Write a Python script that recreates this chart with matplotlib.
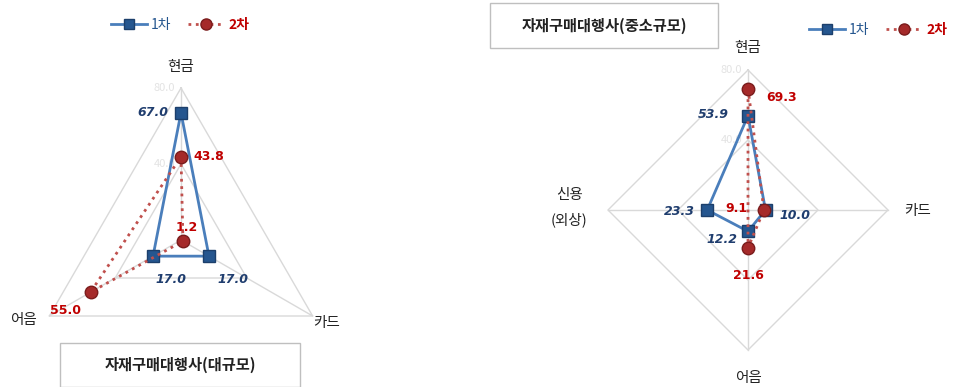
import numpy as np
import matplotlib
matplotlib.use('Agg')
import matplotlib.pyplot as plt
from matplotlib.patches import Rectangle
from matplotlib.lines import Line2D

plt.rcParams['font.family'] = ['Noto Sans CJK KR', 'DejaVu Sans']

# Left chart: large firms
large_axes = ['현금', '카드', '어음']
large_1st = [67.0, 17.0, 17.0]
large_2nd = [43.8, 1.2, 55.0]
large_title = '자재구매대행사(대규모)'

# Right chart: small/medium firms
small_axes = ['현금', '카드', '어음', '신용\n(외상)']
small_1st = [53.9, 10.0, 12.2, 23.3]
small_2nd = [69.3, 9.1, 21.6, 0.0]
small_title = '자재구매대행사(중소규모)'

series_names = ['1차', '2차']
grid_levels = [40.0, 80.0]
r_max = 80.0

blue_line = '#4a7ebb'
blue_mark = '#25568f'
blue_text = '#1f3d6e'
red_line = '#c0504d'
red_mark = '#a52a2a'
red_text = '#c00000'
grid_col = '#d9d9d9'


def radar(ax, labels, s1, s2, lab_off1, lab_off2, cat_off):
    n = len(labels)
    theta = np.linspace(0, 2 * np.pi, n, endpoint=False)
    closed = np.append(theta, theta[0])

    ax.set_theta_offset(np.pi / 2)
    ax.set_theta_direction(-1)
    ax.set_ylim(0, r_max)
    ax.grid(False)
    ax.spines['polar'].set_visible(False)
    ax.set_xticks([])
    ax.set_yticks([])
    ax.patch.set_alpha(0)

    # polygon grid
    for lv in grid_levels:
        ax.plot(closed, [lv] * (n + 1), color=grid_col, lw=1, zorder=1, clip_on=False)
    for t in theta:
        ax.plot([t, t], [0, r_max], color=grid_col, lw=1, zorder=1, clip_on=False)
    for lv in grid_levels:
        ax.annotate(f'{lv:.1f}', xy=(0, lv), xytext=(-4, 0), textcoords='offset points',
                    ha='right', va='center', color='#e3e3e3', fontsize=8)

    # zero values get no marker
    mk1 = [i for i, v in enumerate(s1) if v > 0]
    mk2 = [i for i, v in enumerate(s2) if v > 0]
    ax.plot(closed, np.append(s1, s1[0]), color=blue_line, lw=2, marker='s', ms=8,
            mfc=blue_mark, mec='#1c3f6b', markevery=mk1, zorder=3, clip_on=False)
    ax.plot(closed, np.append(s2, s2[0]), color=red_line, lw=2, ls=':', marker='o', ms=9,
            mfc=red_mark, mec='#7a1c1c', markevery=mk2, zorder=4, clip_on=False)

    for t, v, off in zip(theta, s1, lab_off1):
        if off is None:
            continue
        ax.annotate(f'{v:.1f}', xy=(t, v), xytext=off, textcoords='offset points',
                    ha='center', va='center', color=blue_text, fontsize=9,
                    fontstyle='italic', fontweight='bold', family='DejaVu Sans')
    for t, v, off in zip(theta, s2, lab_off2):
        if off is None:
            continue
        ax.annotate(f'{v:.1f}', xy=(t, v), xytext=off, textcoords='offset points',
                    ha='center', va='center', color=red_text, fontsize=9,
                    fontweight='bold', family='DejaVu Sans')
    for t, lab, off in zip(theta, labels, cat_off):
        ax.annotate(lab, xy=(t, r_max), xytext=off, textcoords='offset points',
                    ha='center', va='center', fontsize=10.5, color='#222222',
                    linespacing=1.9, annotation_clip=False)


fig = plt.figure(figsize=(9.64, 3.87), dpi=100)

ax1 = fig.add_axes([29 / 964, -5 / 387, 304 / 964, 304 / 387], projection='polar')
radar(ax1, large_axes, large_1st, large_2nd,
      [(-20, 0), (17, -17), (13, -17)],
      [(20, 0), (3, 10), (-18, -13)],
      [(0, 15), (10, -5), (-19, -3)])

ax2 = fig.add_axes([608 / 964, 37 / 387, 280 / 964, 280 / 387], projection='polar')
radar(ax2, small_axes, small_1st, small_2nd,
      [(-25, 1), (21, -4), (-19, -6), (-20, -1)],
      [(24, -6), (-20, 1), (0, -20), None],
      [(0, 16), (21, -1), (0, -20), (-28, 2)])

# legends
for x, y in [(180 / 964, 1 - 25 / 387), (878 / 964, 1 - 30 / 387)]:
    h1 = Line2D([], [], color=blue_line, lw=2, marker='s', ms=7, mfc=blue_mark, mec='#1c3f6b')
    h2 = Line2D([], [], color=red_line, lw=2, ls=':', marker='o', ms=8, mfc=red_mark, mec='#7a1c1c')
    leg = fig.legend([h1, h2], series_names, loc='center', bbox_to_anchor=(x, y), ncol=2,
                     frameon=False, handlelength=2.6, handletextpad=0.3, columnspacing=1.2,
                     fontsize=10)
    t1, t2 = leg.get_texts()
    t1.set_color(blue_mark)
    t1.set_fontstyle('italic')
    t2.set_color(red_text)
    t2.set_fontweight('bold')

# title boxes
fig.patches.append(Rectangle((60 / 964, 0 / 387), 240 / 964, 44 / 387, transform=fig.transFigure,
                             fill=False, ec='#bfbfbf', lw=1))
fig.text(180 / 964, 1 - 365 / 387, large_title, ha='center', va='center',
         fontsize=11, fontweight='bold', color='#222222')
fig.patches.append(Rectangle((490 / 964, 1 - 48 / 387), 228 / 964, 45 / 387, transform=fig.transFigure,
                             fill=False, ec='#bfbfbf', lw=1))
fig.text(604 / 964, 1 - 26 / 387, small_title, ha='center', va='center',
         fontsize=11, fontweight='bold', color='#222222')

fig.savefig('out.png', dpi=100)
